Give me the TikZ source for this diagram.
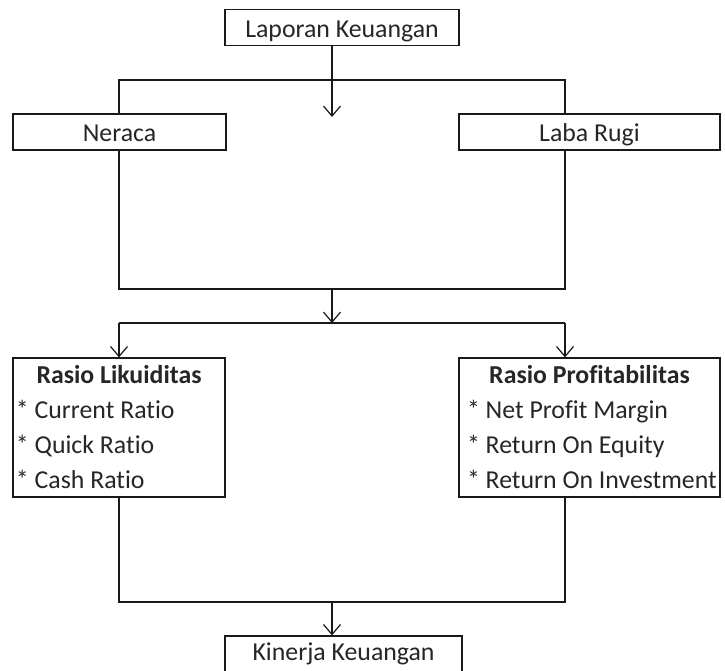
\documentclass[tikz,border=0pt]{standalone}
\usepackage{fontspec}
\setmainfont[Ligatures=NoCommon]{Carlito}
\usetikzlibrary{arrows.meta}
\begin{document}
\begin{tikzpicture}[x=1pt,y=-1pt,
  line width=1.2pt,
  flowbox/.style={draw=black!90, fill=white, inner xsep=0pt, inner ysep=5.5pt,
    text height=22pt, text depth=3pt, font=\fontsize{25.8}{35}\selectfont, text=black!85},
  listbox/.style={draw=black!90, fill=white, inner sep=0pt, align=center,
    font=\fontsize{25.8}{35}\selectfont, text=black!85},
  conn/.style={draw=black!90},
  arr/.style={conn, -{Straight Barb[length=10pt,width=17pt]}}
]
\useasboundingbox (0,0) rectangle (725,670);
\clip (0,0) rectangle (725,670);
\fill[white] (0,0) rectangle (725,670);

% junction coordinates
\coordinate (hL1) at (119,80);
\coordinate (hR1) at (565,80);
\coordinate (hL2) at (119,289);
\coordinate (hR2) at (565,289);
\coordinate (t2)  at (332,117);
\coordinate (m2)  at (332,289);
\coordinate (m3)  at (332,323);
\coordinate (hL3) at (119,323);
\coordinate (hR3) at (565,323);
\coordinate (hL4) at (119,602);
\coordinate (hR4) at (565,602);
\coordinate (m4)  at (332,602);

% frame collecting Neraca and Laba Rugi
\draw[conn] (hL1) rectangle (hR2);

% nodes
\node[flowbox, minimum width=234pt] (lk) at (342,27.5) {Laporan Keuangan};
\node[flowbox, minimum width=213pt] (ner) at (119.5,132) {Neraca};
\node[flowbox, minimum width=261pt] (lr) at (589.5,132) {Laba Rugi};
\node[listbox, minimum width=212pt, minimum height=139pt] (rl) at (119,427.5)
  {\textbf{Rasio Likuiditas}\\
   \makebox[206pt][l]{* Current Ratio}\\
   \makebox[206pt][l]{* Quick Ratio}\\
   \makebox[206pt][l]{* Cash Ratio}};
\node[listbox, minimum width=261pt, minimum height=139pt] (rp) at (589.5,427.5)
  {\textbf{Rasio Profitabilitas}\\
   \makebox[245pt][l]{* Net Profit Margin}\\
   \makebox[245pt][l]{* Return On Equity}\\
   \makebox[245pt][l]{* Return On Investment}};
\node[flowbox, minimum width=237pt, text height=19pt, text depth=6pt] (kk) at (343.5,654) {Kinerja Keuangan};

% connectors
\draw[arr] (lk.south -| t2) -- (t2);
\draw[arr] (m2) -- (m3);
\draw[conn] (hL3) -- (hR3);
\draw[arr] (hL3) -- (rl.north -| hL3);
\draw[arr] (hR3) -- (rp.north -| hR3);
\draw[conn] (rl.south -| hL4) -- (hL4) -- (hR4) -- (rp.south -| hR4);
\draw[arr] (m4) -- (kk.north -| m4);
\end{tikzpicture}
\end{document}
